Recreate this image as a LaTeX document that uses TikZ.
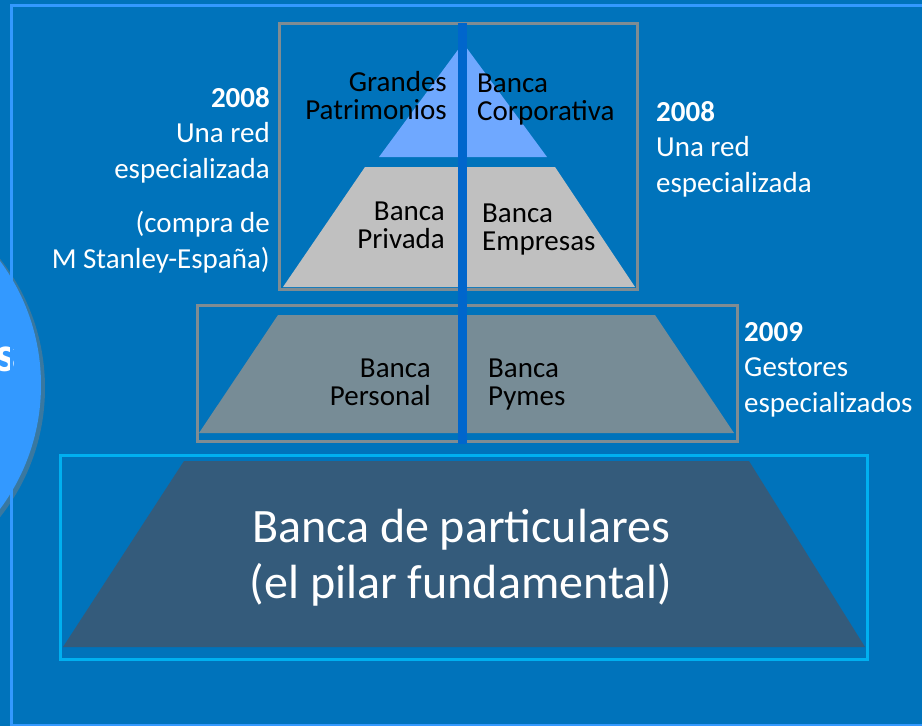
\documentclass[tikz,border=0pt]{standalone}
\usepackage{fontspec}
\setmainfont{Carlito}
\usetikzlibrary{shadows}
\usepackage{xcolor}
\definecolor{hblue}{HTML}{0073BB}
\definecolor{hlight}{HTML}{3399FF}
\definecolor{hgray}{HTML}{808C92}
\definecolor{hcyan}{HTML}{00B0F0}
\definecolor{hmid}{HTML}{0066CC}
\definecolor{htop}{HTML}{6FA8FF}
\definecolor{hsilver}{HTML}{C0C0C0}
\definecolor{hslate}{HTML}{778C96}
\definecolor{hnavy}{HTML}{345B7B}

\begin{document}
\begin{tikzpicture}[x=1pt,y=-1pt,
    side/.style={text=white,inner sep=0pt,font=\fontsize{29}{35.5}\selectfont},
    tier/.style={text=black,inner sep=0pt,font=\fontsize{29}{28}\selectfont}]
  \useasboundingbox (0,0) rectangle (922,726);
  \fill[hblue] (0,0) rectangle (922,726);
  \fill[hlight,drop shadow={opacity=0.45,shadow xshift=4pt,shadow yshift=-3pt}] (-167,385) circle (208pt);
  \node[anchor=base east,text=white,inner sep=0pt,font=\fontsize{50}{56}\selectfont\bfseries] (circtxt) at (16,371) {s};
  \draw[hlight,line width=3pt] (11,5) rectangle (940,725);
  % cajas
  \draw[hgray,line width=3pt] (279,23) rectangle (637,289);
  \draw[hgray,line width=3pt] (197,305) rectangle (737,441);
  \draw[hcyan,line width=3pt] (60,455) rectangle (867,659);
  % niveles
  \fill[htop] (463,43) -- (547,157) -- (379,157) -- cycle;
  \fill[hsilver] (365,167) -- (555,167) -- (635,287) -- (283,287) -- cycle;
  \fill[hslate] (278,315) -- (655,315) -- (734,433) -- (199,433) -- cycle;
  \fill[hnavy] (184,461) -- (749,461) -- (865,647) -- (63,647) -- cycle;
  \draw[hmid,line width=9pt] (462.5,23) -- (462.5,444);
  % textos
  \node[side,anchor=base east,align=right] (notea) at (270,268) {\textbf{2008}\\Una red\\especializada\\[19pt](compra de\\M Stanley-España)};
  \node[side,anchor=base west,align=left] (noteb) at (656,192) {\textbf{2008}\\Una red\\especializada};
  \node[side,anchor=base west,align=left] (notec) at (744,412) {\textbf{2009}\\Gestores\\especializados};
  \node[tier,anchor=base east,align=right] (gpat) at (447,119) {Grandes\\Patrimonios};
  \node[tier,anchor=base west,align=left] (bcorp) at (477,120) {Banca\\Corporativa};
  \node[tier,anchor=base east,align=right] (bpriv) at (445,248) {Banca\\Privada};
  \node[tier,anchor=base west,align=left] (bemp) at (482,250) {Banca\\Empresas};
  \node[tier,anchor=base east,align=right] (bpers) at (431,405) {Banca\\Personal};
  \node[tier,anchor=base west,align=left] (bpym) at (488,405) {Banca\\Pymes};
  \node[text=white,inner sep=0pt,align=center,font=\fontsize{48}{56}\selectfont,anchor=base] (bpart) at (461,598) {Banca de particulares\\(el pilar fundamental)};
\end{tikzpicture}
\end{document}
